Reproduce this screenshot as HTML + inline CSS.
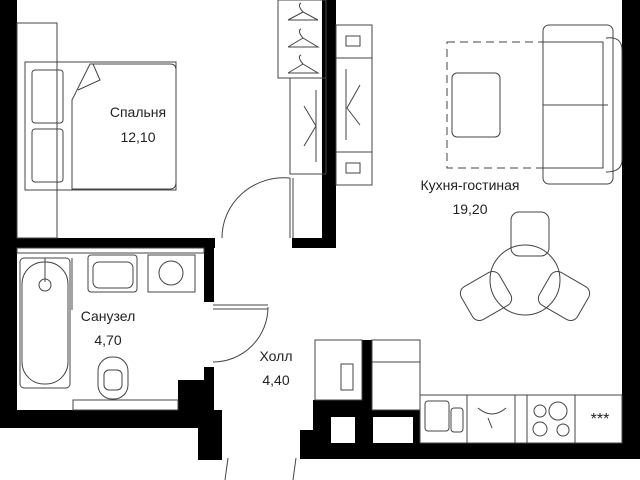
<!DOCTYPE html><html><head><style>body{margin:0;background:#fff}svg{display:block}text{font-family:"Liberation Sans",sans-serif;font-size:14px;fill:#222;text-anchor:middle}</style></head><body>
<svg width="640" height="480" viewBox="0 0 640 480" xmlns="http://www.w3.org/2000/svg">
<g fill="#000">
<rect x="0" y="0" width="17" height="428"/>
<rect x="0" y="238" width="215" height="10"/>
<rect x="322" y="0" width="14" height="248"/>
<rect x="292" y="238" width="44" height="10"/>
<rect x="204" y="238" width="10" height="64"/>
<rect x="0" y="410" width="215" height="18"/>
<rect x="204" y="367" width="10" height="45"/>
<rect x="178" y="380" width="36" height="30"/>
<rect x="198" y="410" width="24" height="50"/>
<rect x="300" y="443" width="340" height="16"/>
<rect x="622" y="0" width="18" height="459"/>
<rect x="313" y="400" width="59" height="43"/>
<rect x="372" y="410" width="48" height="33"/>
<rect x="362" y="340" width="10" height="60"/>
<rect x="300" y="430" width="30" height="29"/>
</g>
<g fill="#fff"><rect x="331" y="417" width="24" height="26"/><rect x="373" y="417" width="40" height="26"/></g>
<g fill="none" stroke="#444" stroke-width="1">
<rect x="17" y="23" width="40" height="215"/>
<rect x="25" y="62" width="151" height="128"/>
<rect x="32" y="70" width="31" height="53" rx="3"/>
<rect x="32" y="129" width="31" height="53" rx="3"/>
<path d="M90 64 H170 Q176 64 176 70 V182 Q176 189 170 189 H72 V100 L90 64 Z"/>
<path d="M93 64 L100 80 L78 90"/>
<rect x="278" y="0" width="48" height="78"/>
<rect x="290" y="78" width="36" height="96"/>
<line x1="316" y1="90" x2="316" y2="162"/><path d="M304 106 L316 126 L304 146"/>
<path d="M288 20 H318 L303 12 Q297 5 301 3 M288 20 L303 12 M288 47 H318 L303 38 Q297 31 301 29 M288 47 L303 38 M288 73 H318 L303 64 Q297 57 301 55 M288 73 L303 64"/>
<rect x="336" y="25" width="36" height="160"/>
<line x1="336" y1="58" x2="372" y2="58"/><line x1="336" y1="152" x2="372" y2="152"/>
<line x1="346" y1="69" x2="346" y2="140"/><path d="M360 85 L347 108 L360 125"/>
<rect x="346" y="36" width="14" height="10"/><rect x="346" y="163" width="14" height="10"/>
<rect x="447" y="42" width="96" height="126" stroke-dasharray="8,5"/>
<rect x="452" y="73" width="48" height="64" rx="5"/>
<rect x="543" y="25" width="70" height="159" rx="6"/>
<line x1="543" y1="105" x2="608" y2="105"/>
<path d="M543 42 H603 V168 H543"/>
<path d="M606 38 Q622 36 622 50 V160 Q622 172 606 172"/>
<circle cx="525" cy="280" r="35"/>
<rect x="511" y="212" width="38" height="44" rx="8"/>
<rect x="-19" y="-22" width="38" height="44" rx="8" transform="translate(486,296) rotate(-120)"/>
<rect x="-19" y="-22" width="38" height="44" rx="8" transform="translate(564,296) rotate(120)"/>
<rect x="315" y="340" width="47" height="60"/>
<rect x="341" y="364" width="12" height="26"/>
<rect x="372" y="340" width="48" height="70"/><line x1="372" y1="362" x2="420" y2="362"/>
<rect x="420" y="395" width="202" height="48"/>
<line x1="467" y1="395" x2="467" y2="443"/><line x1="515" y1="395" x2="515" y2="443"/><line x1="527" y1="395" x2="527" y2="443"/><line x1="575" y1="395" x2="575" y2="443"/>
<rect x="425" y="401" width="24" height="30" rx="3"/><rect x="451" y="408" width="12" height="24" rx="3"/>
<circle cx="540" cy="411" r="6"/><circle cx="558" cy="411" r="9"/><circle cx="540" cy="429" r="7"/><circle cx="563" cy="430" r="6"/>
<path d="M478 408 Q492 420 506 408 M488 418 L492 428"/>
<rect x="17" y="248" width="187" height="5"/>
<rect x="20" y="258" width="50" height="130" rx="4"/>
<rect x="22" y="262" width="46" height="122" rx="22"/>
<circle cx="45" cy="285" r="6"/><line x1="45" y1="258" x2="45" y2="282"/>
<line x1="72" y1="258" x2="72" y2="310"/>
<rect x="88" y="255" width="49" height="37" rx="3"/><rect x="93" y="262" width="40" height="26" rx="6"/>
<rect x="148" y="255" width="47" height="37"/><circle cx="171" cy="273" r="12"/>
<rect x="98" y="357" width="30" height="42" rx="14"/><rect x="104" y="370" width="18" height="20" rx="5"/>
<rect x="73" y="400" width="105" height="10"/>
<line x1="290" y1="178" x2="290" y2="238"/><line x1="293" y1="178" x2="293" y2="238"/>
<path d="M290 178 A62 60 0 0 0 222 238"/>
<line x1="213" y1="305" x2="268" y2="305"/><line x1="213" y1="309" x2="268" y2="309"/>
<path d="M268 307 A55 55 0 0 1 213 362"/>
<path d="M225 480 L228 458 M293 480 L296 458"/>
</g>
<text x="138" y="117">Спальня</text><text x="138" y="142">12,10</text>
<text x="108" y="321">Санузел</text><text x="108" y="345">4,70</text>
<text x="276" y="361">Холл</text><text x="276" y="385">4,40</text>
<text x="470" y="190">Кухня-гостиная</text><text x="470" y="214">19,20</text>
<text x="600" y="424" style="font-size:16px">***</text>
</svg></body></html>
